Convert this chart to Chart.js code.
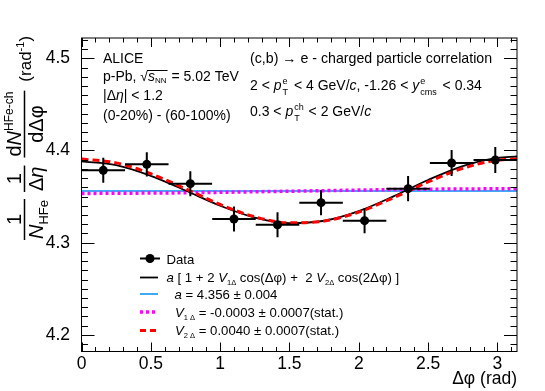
<!DOCTYPE html>
<html><head><meta charset="utf-8">
<script src="https://cdn.jsdelivr.net/npm/chart.js@4/dist/chart.umd.min.js"></script>
<style>html,body{margin:0;padding:0;background:#fff}#wrap{width:545px;height:391px}</style>
</head><body><div id="wrap"><canvas id="c" width="545" height="391"></canvas></div>
<script>
// ---- data ----
const binCenters = [0.157, 0.471, 0.785, 1.100, 1.414, 1.728, 2.042, 2.356, 2.670, 2.985];
const binHalfWidths = [0.157, 0.157, 0.157, 0.157, 0.157, 0.157, 0.157, 0.157, 0.157, 0.157];
const dataValues = [4.3785, 4.3850, 4.3640, 4.3257, 4.3195, 4.3434, 4.3239, 4.3586, 4.3864, 4.3897];
const dataErrors = [0.0136, 0.0132, 0.0136, 0.0136, 0.0136, 0.0136, 0.0136, 0.0136, 0.0140, 0.0140];

const curveX   = [0, 0.25, 0.5, 0.75, 1.0, 1.25, 1.5, 1.75, 2.0, 2.25, 2.5, 2.75, 3.0, 3.1416];
const fitTotal = [4.3882, 4.3841, 4.3725, 4.3566, 4.3401, 4.3273, 4.3213, 4.3238, 4.3343, 4.3503, 4.3680, 4.3831, 4.3921, 4.3935];
const fitV2    = [4.3908, 4.3866, 4.3748, 4.3585, 4.3415, 4.3281, 4.3215, 4.3234, 4.3332, 4.3487, 4.3659, 4.3807, 4.3895, 4.3908];
const v1X      = [0, 0.785, 1.571, 2.356, 3.1416];
const fitV1    = [4.3534, 4.3542, 4.3560, 4.3578, 4.3586];
const constX   = [0, 3.1416];
const constA   = [4.356, 4.356];

const xTicks = [0, 0.5, 1, 1.5, 2, 2.5, 3];
const yTicks = [4.2, 4.3, 4.4, 4.5];

const FAM = '"Liberation Sans", Arial, Helvetica, sans-serif';
function fnt(size, italic) { return (italic ? 'italic ' : '') + size + 'px ' + FAM; }
function pts(xs, ys) { return xs.map((x, i) => ({ x: x, y: ys[i] })); }

function richWidth(ctx, segs) {
  let w = 0;
  for (const g of segs) {
    if (g.ss) {
      ctx.font = fnt(g.s, g.supI); const a = ctx.measureText(g.sup).width;
      ctx.font = fnt(g.s, g.subI); const b = ctx.measureText(g.sub).width;
      w += Math.max(a, b) + (g.gap || 0);
    } else { ctx.font = fnt(g.s, g.i); w += ctx.measureText(g.t).width + (g.gap || 0); }
  }
  return w;
}
function rich(ctx, x, y, segs) {
  let cx = x;
  for (const g of segs) {
    if (g.ss) {
      ctx.font = fnt(g.s, g.supI); const a = ctx.measureText(g.sup).width; ctx.fillText(g.sup, cx, y + g.supDy);
      ctx.font = fnt(g.s, g.subI); const b = ctx.measureText(g.sub).width; ctx.fillText(g.sub, cx, y + g.subDy);
      cx += Math.max(a, b) + (g.gap || 0);
    } else {
      ctx.font = fnt(g.s, g.i); ctx.fillText(g.t, cx, y + (g.dy || 0));
      cx += ctx.measureText(g.t).width + (g.gap || 0);
    }
  }
  return cx;
}

const errorBars = {
  id: 'errorBars',
  beforeDatasetDraw(chart, args) {
    if (args.index !== 0) return;
    const { ctx, scales: { x, y } } = chart;
    ctx.save(); ctx.strokeStyle = '#000'; ctx.lineWidth = 2;
    binCenters.forEach((c, i) => {
      const px = x.getPixelForValue(c), py = y.getPixelForValue(dataValues[i]);
      ctx.beginPath();
      ctx.moveTo(x.getPixelForValue(c - binHalfWidths[i]), py);
      ctx.lineTo(x.getPixelForValue(c + binHalfWidths[i]), py);
      ctx.moveTo(px, y.getPixelForValue(dataValues[i] - dataErrors[i]));
      ctx.lineTo(px, y.getPixelForValue(dataValues[i] + dataErrors[i]));
      ctx.stroke();
    });
    ctx.restore();
  }
};

const frameAndText = {
  id: 'frameAndText',
  afterDraw(chart) {
    const { ctx, chartArea: a, scales: { x, y } } = chart;
    ctx.save();
    // frame
    ctx.strokeStyle = '#000'; ctx.lineWidth = 1;
    ctx.strokeRect(a.left, a.top, a.right - a.left, a.bottom - a.top);
    // x ticks (bottom & top)
    ctx.beginPath();
    for (let k = 0; k <= 31; k++) {
      const v = k / 10; const px = Math.round(x.getPixelForValue(v)) + 0.5;
      if (px > a.right) break;
      const L = (k % 5 === 0) ? 9 : 4.5;
      ctx.moveTo(px, a.bottom); ctx.lineTo(px, a.bottom - L);
      ctx.moveTo(px, a.top); ctx.lineTo(px, a.top + L);
    }
    // y ticks (left & right)
    for (let k = 0; k <= 40; k++) {
      const v = 4.18 + k / 100; if (v < y.min || v > y.max) continue;
      const py = Math.round(y.getPixelForValue(v)) + 0.5;
      const L = (Math.round(v * 100) % 10 === 0) ? 13 : 6.5;
      ctx.moveTo(a.left, py); ctx.lineTo(a.left + L, py);
      ctx.moveTo(a.right, py); ctx.lineTo(a.right - L, py);
    }
    ctx.stroke();

    ctx.fillStyle = '#000'; ctx.textBaseline = 'alphabetic'; ctx.textAlign = 'left';
    const S = 14;
    // left text block
    rich(ctx, 103, 63, [{ t: 'ALICE', s: S }]);
    let cx = rich(ctx, 103, 81, [{ t: 'p-Pb, ', s: S }, { t: '\u221A', s: S }]);
    const sx = cx;
    cx = rich(ctx, cx, 81, [{ t: 's', s: S, i: true }, { t: 'NN', s: 8, dy: 2 }]);
    ctx.beginPath(); ctx.lineWidth = 1; ctx.moveTo(sx - 1, 70.5); ctx.lineTo(cx + 1, 70.5); ctx.stroke();
    rich(ctx, cx + 1, 81, [{ t: ' = 5.02 TeV', s: S }]);
    rich(ctx, 103, 100, [{ t: '|\u0394', s: S }, { t: '\u03B7', s: S, i: true }, { t: '| < 1.2', s: S }]);
    rich(ctx, 103, 119.5, [{ t: '(0-20%) - (60-100%)', s: S }]);
    // right text block
    rich(ctx, 250, 63, [{ t: '(c,b) \u2192 e - charged particle correlation', s: 14.2 }]);
    rich(ctx, 250, 90, [{ t: '2 < ', s: S }, { t: 'p', s: S, i: true, gap: 1 },
      { ss: true, sup: 'e', sub: 'T', s: 9, supDy: -6, subDy: 5, gap: 2 },
      { t: ' < 4 GeV/', s: S }, { t: 'c', s: S, i: true }, { t: ', -1.26 < ', s: S }, { t: 'y', s: S, i: true, gap: 1 },
      { ss: true, sup: 'e', sub: 'cms', s: 9, supDy: -6, subDy: 5, gap: 2 }, { t: ' < 0.34', s: S }]);
    rich(ctx, 250, 116, [{ t: '0.3 < ', s: S }, { t: 'p', s: S, i: true, gap: 1 },
      { ss: true, sup: 'ch', sub: 'T', s: 9, supDy: -6, subDy: 5, gap: 1 },
      { t: ' < 2 GeV/', s: S }, { t: 'c', s: S, i: true }]);

    // legend
    const LS = 13.2;
    ctx.lineWidth = 2; ctx.strokeStyle = '#000'; ctx.setLineDash([]);
    ctx.beginPath(); ctx.moveTo(140, 258.5); ctx.lineTo(160, 258.5); ctx.stroke();
    ctx.beginPath(); ctx.arc(150, 258.5, 4.5, 0, Math.PI * 2); ctx.fill();
    rich(ctx, 166.5, 263.5, [{ t: 'Data', s: LS }]);
    ctx.lineWidth = 1.8;
    ctx.beginPath(); ctx.moveTo(140, 277.5); ctx.lineTo(158, 277.5); ctx.stroke();
    rich(ctx, 166.5, 281.5, [{ t: 'a', s: LS, i: true }, { t: ' [ 1 + 2 ', s: LS }, { t: 'V', s: LS, i: true },
      { t: '1\u0394', s: 7.5, dy: 3 }, { t: ' cos(\u0394\u03C6) +  2 ', s: LS }, { t: 'V', s: LS, i: true },
      { t: '2\u0394', s: 7.5, dy: 3 }, { t: ' cos(2\u0394\u03C6) ]', s: LS }]);
    ctx.strokeStyle = '#3fa9f5'; ctx.lineWidth = 2;
    ctx.beginPath(); ctx.moveTo(140, 294); ctx.lineTo(158, 294); ctx.stroke();
    rich(ctx, 174.5, 298.5, [{ t: 'a', s: LS, i: true }, { t: ' = 4.356 \u00B1 0.004', s: LS }]);
    ctx.strokeStyle = '#ff00ff'; ctx.lineWidth = 3.5; ctx.setLineDash([3, 3]);
    ctx.beginPath(); ctx.moveTo(140, 312); ctx.lineTo(158, 312); ctx.stroke();
    rich(ctx, 175, 316.5, [{ t: 'V', s: LS, i: true }, { t: '1 \u0394', s: 7.5, dy: 3 }, { t: ' = -0.0003 \u00B1 0.0007(stat.)', s: LS }]);
    ctx.strokeStyle = '#ff0000'; ctx.lineWidth = 3; ctx.setLineDash([6, 4]);
    ctx.beginPath(); ctx.moveTo(140, 330.5); ctx.lineTo(160, 330.5); ctx.stroke();
    ctx.setLineDash([]);
    rich(ctx, 175, 335, [{ t: 'V', s: LS, i: true }, { t: '2 \u0394', s: 7.5, dy: 3 }, { t: ' = 0.0040 \u00B1 0.0007(stat.)', s: LS }]);

    // x axis title
    ctx.font = fnt(17.5); ctx.textAlign = 'right';
    ctx.fillText('\u0394\u03C6 (rad)', a.right, 384);
    ctx.textAlign = 'left';

    // y axis title (rotated)
    ctx.save();
    ctx.translate(0, 240); ctx.rotate(-Math.PI / 2);
    ctx.strokeStyle = '#000'; ctx.lineWidth = 1.5;
    const T = 20;
    function frac(u, num, den) {
      const wn = richWidth(ctx, num), wd = richWidth(ctx, den), w = Math.max(wn, wd) + 2;
      rich(ctx, u + (w - wn) / 2, 20.5, num);
      rich(ctx, u + (w - wd) / 2, 42.5, den);
      ctx.beginPath(); ctx.moveTo(u, 24.5); ctx.lineTo(u + w, 24.5); ctx.stroke();
      return u + w;
    }
    let u = frac(0, [{ t: '1', s: T }], [{ t: 'N', s: T, i: true }, { t: 'HFe', s: 13, dy: 5 }]);
    u = frac(u + 7, [{ t: '1', s: T }], [{ t: '\u0394', s: T }, { t: '\u03B7', s: T, i: true }]);
    u = frac(u + 8, [{ t: 'd', s: T }, { t: 'N', s: T, i: true }, { t: 'HFe-ch', s: 12, dy: -8 }], [{ t: 'd\u0394\u03C6', s: T }]);
    rich(ctx, u + 9, 31, [{ t: '(rad', s: 17 }, { t: '-1', s: 11, dy: -7 }, { t: ')', s: 17 }]);
    ctx.restore();

    ctx.restore();
  }
};

new Chart(document.getElementById('c'), {
  type: 'scatter',
  data: {
    datasets: [
      { label: 'Data', data: pts(binCenters, dataValues), pointRadius: 4.5, pointHoverRadius: 4.5,
        backgroundColor: '#000', borderColor: '#000', pointBorderWidth: 0, showLine: false, order: 0 },
      { label: 'V2', data: pts(curveX, fitV2), showLine: true, borderColor: '#ff0000', borderWidth: 3,
        borderDash: [7, 4], pointRadius: 0, cubicInterpolationMode: 'monotone', order: 1 },
      { label: 'fit', data: pts(curveX, fitTotal), showLine: true, borderColor: '#000', borderWidth: 1.8,
        pointRadius: 0, cubicInterpolationMode: 'monotone', order: 2 },
      { label: 'V1', data: pts(v1X, fitV1), showLine: true, borderColor: '#ff00ff', borderWidth: 3.5,
        borderDash: [3, 3], pointRadius: 0, cubicInterpolationMode: 'monotone', order: 3 },
      { label: 'a', data: pts(constX, constA), showLine: true, borderColor: '#3fa9f5', borderWidth: 2,
        pointRadius: 0, order: 4 }
    ]
  },
  options: {
    responsive: false, animation: false, devicePixelRatio: 1,
    layout: { padding: { left: 0, top: 38, right: 28, bottom: 0 } },
    plugins: { legend: { display: false }, tooltip: { enabled: false } },
    scales: {
      x: {
        type: 'linear', min: 0, max: 3.1416, position: 'bottom',
        grid: { display: false }, border: { display: false },
        ticks: { font: { family: FAM, size: 17.5 }, color: '#000', padding: -6, maxRotation: 0, autoSkip: false,
          includeBounds: false, callback: v => String(v) },
        afterBuildTicks: s => { s.ticks = xTicks.map(v => ({ value: v })); },
        afterFit: s => { s.height = 39.5; }
      },
      y: {
        type: 'linear', min: 4.182, max: 4.522,
        grid: { display: false }, border: { display: false },
        ticks: { font: { family: FAM, size: 17.5 }, color: '#000', padding: 3.5, autoSkip: false,
          includeBounds: false, callback: v => String(v) },
        afterBuildTicks: s => { s.ticks = yTicks.map(v => ({ value: v })); },
        afterFit: s => { s.width = 81.5; }
      }
    }
  },
  plugins: [errorBars, frameAndText]
});
</script>
</body></html>
